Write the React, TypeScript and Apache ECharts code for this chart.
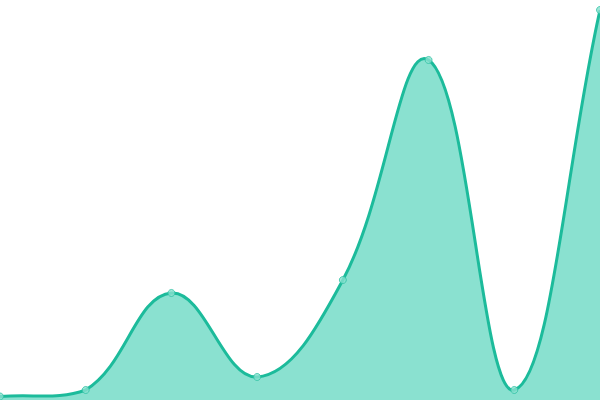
import React, { useEffect, useRef } from "react";
import * as echarts from "echarts";

const categories = ["A", "B", "C", "D", "E", "F", "G", "H"];
const values = [3.5, 10, 107, 23, 120, 340, 10, 390];
const yMax = 400;
const tension = 0.4;

function splinePath(pts: number[][], area: { x0: number; x1: number; y0: number; y1: number }) {
  const n = pts.length;
  const cps: { prev: number[]; next: number[] }[] = [];
  const cap = (p: number[]) => [
    Math.min(Math.max(p[0], area.x0), area.x1),
    Math.min(Math.max(p[1], area.y0), area.y1),
  ];
  for (let i = 0; i < n; i++) {
    const prev = pts[Math.max(i - 1, 0)];
    const cur = pts[i];
    const next = pts[Math.min(i + 1, n - 1)];
    const d01 = Math.hypot(cur[0] - prev[0], cur[1] - prev[1]);
    const d12 = Math.hypot(next[0] - cur[0], next[1] - cur[1]);
    let s01 = d01 / (d01 + d12);
    let s12 = d12 / (d01 + d12);
    if (!isFinite(s01)) s01 = 0;
    if (!isFinite(s12)) s12 = 0;
    const fa = tension * s01;
    const fb = tension * s12;
    cps.push({
      prev: cap([cur[0] - fa * (next[0] - prev[0]), cur[1] - fa * (next[1] - prev[1])]),
      next: cap([cur[0] + fb * (next[0] - prev[0]), cur[1] + fb * (next[1] - prev[1])]),
    });
  }
  let d = `M${pts[0][0]},${pts[0][1]}`;
  for (let i = 1; i < n; i++) {
    const c1 = cps[i - 1].next;
    const c2 = cps[i].prev;
    d += ` C${c1[0]},${c1[1]} ${c2[0]},${c2[1]} ${pts[i][0]},${pts[i][1]}`;
  }
  return d;
}

export default function App() {
  const ref = useRef<HTMLDivElement>(null);
  useEffect(() => {
    document.body.style.margin = "0";
    const chart = echarts.init(ref.current!, null, { renderer: "svg" });
    chart.setOption({
      animation: false,
      grid: { left: 0, right: 0, top: 0, bottom: 0 },
      xAxis: {
        type: "category",
        data: categories,
        boundaryGap: false,
        show: false,
      },
      yAxis: { type: "value", min: 0, max: yMax, show: false },
      series: [
        {
          type: "custom",
          data: [[0, 0]],
          encode: { x: 0, y: 1 },
          clip: false,
          renderItem: (params: any, api: any) => {
            const pts = values.map((v, i) => api.coord([i, v]));
            const base = api.coord([0, 0]);
            const top = api.coord([0, yMax]);
            const area = {
              x0: pts[0][0],
              x1: pts[pts.length - 1][0],
              y0: Math.min(top[1], base[1]),
              y1: Math.max(top[1], base[1]),
            };
            const line = splinePath(pts, area);
            const last = pts[pts.length - 1];
            const areaPath = `${line} L${last[0]},${base[1]} L${pts[0][0]},${base[1]} Z`;
            return {
              type: "group",
              children: [
                {
                  type: "path",
                  shape: { pathData: areaPath },
                  style: { fill: "#8ae1d0", stroke: "none" },
                },
                {
                  type: "path",
                  shape: { pathData: line },
                  style: { fill: "none", stroke: "#1cbb9b", lineWidth: 3 },
                },
              ],
            };
          },
          z: 1,
        },
        {
          type: "scatter",
          data: values,
          symbol: "circle",
          symbolSize: 7,
          itemStyle: { color: "#8ae1d0", borderColor: "#2fc2a4", borderWidth: 1 },
          z: 2,
        },
      ],
    });
    return () => chart.dispose();
  }, []);
  return (
    <div
      ref={ref}
      style={{ position: "fixed", left: 0, top: 0, width: 600, height: 400 }}
    />
  );
}
